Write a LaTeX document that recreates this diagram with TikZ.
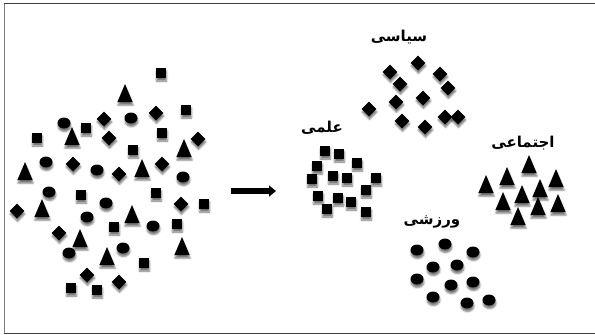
\documentclass[tikz,border=0pt]{standalone}
\usepackage{fontspec}
\usepackage{tikz}
\usetikzlibrary{arrows.meta,shapes,shadows.blur}
\newfontfamily\arabicfont[Script=Arabic]{DejaVu Sans}
\TeXXeTstate=1

\begin{document}
\begin{tikzpicture}[x=1pt,y=-1pt,
shp/.style={fill=black,draw=none,inner sep=0pt,blur shadow={shadow xshift=0.5pt,shadow yshift=-3pt,shadow blur radius=1.8pt,shadow opacity=55}},
sqr/.style={shp,rectangle,minimum size=10pt},
crc/.style={shp,ellipse,minimum width=13pt,minimum height=11pt},
tri/.style={shp,isosceles triangle,isosceles triangle apex angle=46,shape border rotate=90,minimum height=18pt},
dmd/.style={shp,diamond,minimum size=15pt},
lbl/.style={font=\arabicfont\bfseries\fontsize{15pt}{17pt}\selectfont,inner sep=1pt}]
\useasboundingbox (0,0) rectangle (595,335);
\draw[gray,line width=1.5pt] (4.5,3)--(4.5,333);
\draw[black!75,line width=1pt] (4,3)--(595,3) (4,333)--(595,333);

\foreach \x/\y [count=\i] in {161/73,186/110,86/128,162/133,37/138,133/150,81/195,156/193,204/204,114/227,177/224,144/263,71/288,97/290}
  \node[sqr] (lsq\i) at (\x,\y) {};
\foreach \x/\y [count=\i] in {64/123,131/118,46/162,97/170,183/177,49/192,106/203,87/217,153/226,69/253,123/248}
  \node[crc] (lcr\i) at (\x,\y) {};
\foreach \x/\y [count=\i] in {125/97,72/140,184/152,142/172,25/175,42/212,132/218,80/242,107/260,182/250}
  \node[tri] (ltr\i) at (\x,\y) {};
\foreach \x/\y [count=\i] in {156/113,104/119,198/139,109/138,73/164,119/174,162/164,181/204,17/211,59/233,87/275,119/282}
  \node[dmd] (ldm\i) at (\x,\y) {};

\coordinate (arrS) at (231,191);
\coordinate (arrE) at (276,191);
\draw[line width=5.5pt,-{Triangle[length=7pt,width=11pt]}] (arrS)--(arrE);

\foreach \x/\y [count=\i] in {418/63,390/72,440/74,400/84,448/88,369/109,396/102,423/98,445/117,458/117,402/121,425/127}
  \node[dmd] (pol\i) at (\x,\y) {};
\foreach \x/\y [count=\i] in {325/151,339/154,317/166,357/163,312/179,333/176,347/178,376/178,318/196,338/198,351/202,366/190,327/209,366/212}
  \node[sqr] (sci\i) at (\x,\y) {};
\foreach \x/\y [count=\i] in {417/250,445/244,473/252,433/267,457/265,417/279,451/285,473/282,433/297,467/303,489/300}
  \node[crc] (spo\i) at (\x,\y) {};
\foreach \x/\y [count=\i] in {529/168,507/180,556/182,486/188,540/192,522/198,503/205,538/210,558/207,518/220}
  \node[tri] (soc\i) at (\x,\y) {};

\node[lbl] (polLbl) at (399,37) {\beginR سیاسی\endR};
\node[lbl] (sciLbl) at (322,128) {\beginR علمی\endR};
\node[lbl] (socLbl) at (523,143) {\beginR اجتماعی\endR};
\node[lbl] (spoLbl) at (432,222) {\beginR ورزشی\endR};
\end{tikzpicture}
\end{document}
